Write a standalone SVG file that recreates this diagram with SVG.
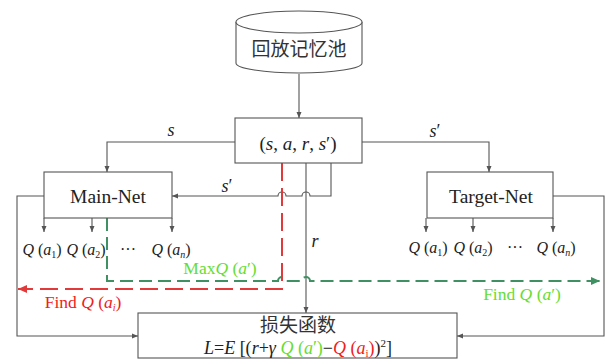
<svg xmlns="http://www.w3.org/2000/svg" width="608" height="361" viewBox="0 0 608 361">
<style>
.ln{fill:none;stroke:#555;stroke-width:1.1}
.bx{fill:#fff;stroke:#555;stroke-width:1.1}
.t{font-family:"Liberation Serif","Times New Roman",serif;fill:#222}
.i{font-style:italic}
.cjk{font-family:"Noto Sans CJK SC","Noto Sans",sans-serif;fill:#333}
.rd{fill:none;stroke:#e23a3a;stroke-width:2;stroke-dasharray:18 7}
.gd{fill:none;stroke:#3f9062;stroke-width:2;stroke-dasharray:13 6}
.gl{fill:#66dd33}
.rl{fill:#f02020}
</style>
<defs>
<marker id="a" viewBox="0 0 6 6" refX="6" refY="3" markerWidth="6" markerHeight="6" orient="auto" markerUnits="userSpaceOnUse"><path d="M0,0.5 L6,3 L0,5.5 Z" fill="#555"/></marker>
<marker id="ar" viewBox="0 0 8 8" refX="8" refY="4" markerWidth="9" markerHeight="9" orient="auto" markerUnits="userSpaceOnUse"><path d="M0,0.5 L8,4 L0,7.5 Z" fill="#e23a3a"/></marker>
<marker id="ag" viewBox="0 0 8 8" refX="8" refY="4" markerWidth="9" markerHeight="9" orient="auto" markerUnits="userSpaceOnUse"><path d="M0,0.5 L8,4 L0,7.5 Z" fill="#3f9062"/></marker>
</defs>

<g id="connectors">
<path class="ln" d="M299,74 V118" marker-end="url(#a)"/>
<path class="ln" d="M235,142 H107 V172" marker-end="url(#a)"/>
<path class="ln" d="M362,142 H489 V172" marker-end="url(#a)"/>
<path class="ln" d="M331,163 V196 H310 A4,4 0 0,0 302,196 H286 A4,4 0 0,0 278,196 H172" marker-end="url(#a)"/>
<path class="ln" d="M306,163 V313" marker-end="url(#a)"/>
<path class="ln" d="M44,196 H17 V336 H138" marker-end="url(#a)"/>
<path class="ln" d="M553,196 H604 V336 H457" marker-end="url(#a)"/>
<path class="ln" d="M44,218 V232" marker-end="url(#a)"/>
<path class="ln" d="M92,218 V232" marker-end="url(#a)"/>
<path class="ln" d="M172,218 V232" marker-end="url(#a)"/>
<path class="ln" d="M426,218 V232" marker-end="url(#a)"/>
<path class="ln" d="M473,218 V232" marker-end="url(#a)"/>
<path class="ln" d="M553,218 V232" marker-end="url(#a)"/>
<path class="gd" d="M107,218 V281 H278 A4,4 0 0,1 286,281 H302 A4,4 0 0,1 310,281 H600" marker-end="url(#ag)"/>
<path class="rd" d="M282,163 V289 H18" marker-end="url(#ar)"/>
</g>

<g id="replay">
<path class="bx" d="M236,22 V63 A63,10 0 0,0 362,63 V22"/>
<ellipse class="bx" cx="299" cy="22" rx="63" ry="11"/>
<text class="cjk" x="299" y="56" font-size="19" text-anchor="middle">回放记忆池</text>
</g>

<g id="sample">
<rect class="bx" x="235" y="118" width="127" height="45"/>
<text class="t" x="298" y="150" font-size="19" text-anchor="middle">(<tspan class="i">s</tspan>, <tspan class="i">a</tspan>, <tspan class="i">r</tspan>, <tspan class="i">s</tspan>′)</text>
</g>

<g id="mainnet">
<rect class="bx" x="44" y="172" width="128" height="46"/>
<text class="t" x="108" y="203" font-size="19.5" text-anchor="middle">Main-Net</text>
</g>

<g id="targetnet">
<rect class="bx" x="427" y="172" width="126" height="46"/>
<text class="t" x="491" y="203" font-size="19.5" text-anchor="middle">Target-Net</text>
</g>

<g id="loss">
<rect class="bx" x="138" y="313" width="319" height="45"/>
<text class="cjk" x="298" y="332" font-size="19" text-anchor="middle">损失函数</text>
<text class="t" x="298" y="354" font-size="18" text-anchor="middle"><tspan class="i">L</tspan>=<tspan class="i">E</tspan> [(<tspan class="i">r</tspan>+<tspan class="i">γ</tspan> <tspan class="gl"><tspan class="i">Q</tspan> (<tspan class="i">a</tspan>′)</tspan>−<tspan class="rl"><tspan class="i">Q</tspan> (<tspan class="i">a</tspan><tspan font-size="11" dy="3">i</tspan><tspan dy="-3">)</tspan></tspan>)<tspan font-size="11" dy="-7">2</tspan><tspan dy="7">]</tspan></text>
</g>

<g id="labels">
<text class="t i" x="171" y="136" font-size="18" text-anchor="middle">s</text>
<text class="t" x="435" y="137" font-size="18" text-anchor="middle"><tspan class="i">s</tspan>′</text>
<text class="t" x="227" y="192" font-size="18" text-anchor="middle"><tspan class="i">s</tspan>′</text>
<text class="t i" x="315" y="247" font-size="18" text-anchor="middle">r</text>

<text class="t" x="42" y="255" font-size="16" text-anchor="middle"><tspan class="i">Q</tspan> (<tspan class="i">a</tspan><tspan font-size="10" dy="3">1</tspan><tspan dy="-3">)</tspan></text>
<text class="t" x="86" y="255" font-size="16" text-anchor="middle"><tspan class="i">Q</tspan> (<tspan class="i">a</tspan><tspan font-size="10" dy="3">2</tspan><tspan dy="-3">)</tspan></text>
<text class="t" x="128" y="255" font-size="16" text-anchor="middle">···</text>
<text class="t" x="171" y="255" font-size="16" text-anchor="middle"><tspan class="i">Q</tspan> (<tspan class="i">a</tspan><tspan class="i" font-size="10" dy="3">n</tspan><tspan dy="-3">)</tspan></text>

<text class="t" x="428" y="253" font-size="16" text-anchor="middle"><tspan class="i">Q</tspan> (<tspan class="i">a</tspan><tspan font-size="10" dy="3">1</tspan><tspan dy="-3">)</tspan></text>
<text class="t" x="473" y="253" font-size="16" text-anchor="middle"><tspan class="i">Q</tspan> (<tspan class="i">a</tspan><tspan font-size="10" dy="3">2</tspan><tspan dy="-3">)</tspan></text>
<text class="t" x="515" y="253" font-size="16" text-anchor="middle">···</text>
<text class="t" x="556" y="253" font-size="16" text-anchor="middle"><tspan class="i">Q</tspan> (<tspan class="i">a</tspan><tspan class="i" font-size="10" dy="3">n</tspan><tspan dy="-3">)</tspan></text>

<text class="t gl" x="220" y="274" font-size="17.5" text-anchor="middle" style="fill:#66dd33">Max<tspan class="i">Q</tspan> (<tspan class="i">a</tspan>′)</text>
<text class="t" x="83" y="308" font-size="17.5" text-anchor="middle" style="fill:#f02020">Find <tspan class="i">Q</tspan> (<tspan class="i">a</tspan><tspan class="i" font-size="10" dy="3">i</tspan><tspan dy="-3">)</tspan></text>
<text class="t" x="522" y="300" font-size="17.5" text-anchor="middle" style="fill:#66dd33">Find <tspan class="i">Q</tspan> (<tspan class="i">a</tspan>′)</text>
</g>
</svg>
